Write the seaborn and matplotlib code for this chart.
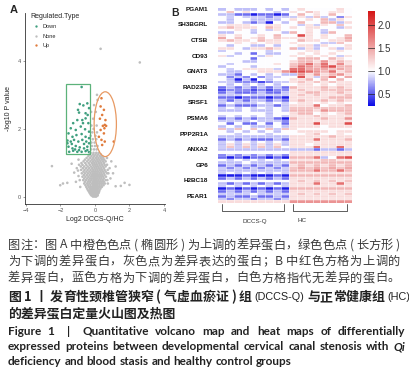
#Volcano plot (A) + heat map (B) of differentially expressed proteins

#Imports
import numpy as np
import pandas as pd
import matplotlib
matplotlib.use('Agg')
import matplotlib.pyplot as plt
import seaborn as sns
from matplotlib.colors import LinearSegmentedColormap
from matplotlib.patches import Rectangle, Ellipse

#Volcano data (log2 fold change, -log10 p)
down_points = [(-0.77, 3.23), (-0.88, 2.73), (-0.67, 2.69), (-0.44, 2.75), (-0.92, 2.48),
               (-0.54, 2.46), (-0.34, 2.61), (-1.26, 2.17), (-1.02, 2.26), (-0.73, 2.26),
               (-0.54, 2.31), (-0.38, 2.17), (-1.40, 2.02), (-1.11, 1.97), (-0.82, 2.07),
               (-0.57, 1.99), (-0.34, 1.92), (-1.53, 1.87), (-1.30, 1.77), (-1.07, 1.82),
               (-0.77, 1.85), (-0.54, 1.77), (-0.34, 1.73), (-1.59, 1.66), (-1.40, 1.63),
               (-1.21, 1.68), (-0.96, 1.63), (-0.73, 1.68), (-0.50, 1.63), (-0.34, 1.58),
               (-1.53, 1.48), (-1.30, 1.43), (-1.11, 1.50), (-0.88, 1.46), (-0.63, 1.43),
               (-0.44, 1.48), (-1.49, 1.33), (-1.26, 1.36), (-1.02, 1.33), (-0.77, 1.33),
               (-0.54, 1.35), (-0.34, 1.32), (-1.59, 1.58), (-1.34, 1.56), (-0.63, 1.56),
               (-0.92, 1.38), (-1.15, 1.40), (-0.44, 1.38), (-0.69, 2.17), (-0.98, 2.56),
               (-0.42, 2.41)]
up_points = [(0.38, 2.90), (0.33, 2.66), (0.52, 2.56), (0.42, 2.41), (0.57, 2.12),
             (0.65, 2.09), (0.46, 2.09), (0.33, 1.97), (0.52, 1.87), (0.38, 1.68),
             (0.57, 1.63), (0.42, 1.53), (1.09, 1.63), (0.23, 1.77), (0.61, 2.26),
             (0.55, 2.02), (0.29, 2.30)]
#non significant proteins, grouped by -log10 p band
gray_bands = [
    (0.02, [-0.12, -0.05, 0.02, 0.08]),
    (0.05, [-0.2, -0.14, -0.08, -0.02, 0.04, 0.1, 0.16]),
    (0.08, [-0.25, -0.18, -0.1, -0.04, 0.03, 0.09, 0.15]),
    (0.12, [-0.3, -0.21, -0.15, -0.07, 0.0, 0.06, 0.12, 0.21]),
    (0.16, [-0.34, -0.22, -0.12, -0.05, 0.05, 0.11, 0.24]),
    (0.2, [-0.4, -0.27, -0.18, -0.1, -0.02, 0.07, 0.14, 0.26]),
    (0.25, [-0.45, -0.3, -0.2, -0.13, -0.06, 0.01, 0.09, 0.19, 0.32]),
    (0.3, [-0.5, -0.36, -0.25, -0.15, -0.08, 0.0, 0.08, 0.17, 0.28, 0.4]),
    (0.35, [-0.55, -0.4, -0.26, -0.12, -0.03, 0.05, 0.14, 0.26, 0.38, 0.5]),
    (0.4, [-0.62, -0.46, -0.32, -0.18, -0.07, 0.02, 0.11, 0.22, 0.34, 0.46, 0.58]),
    (0.45, [-0.58, -0.41, -0.27, -0.13, -0.04, 0.06, 0.16, 0.28, 0.4, 0.52]),
    (0.5, [-0.68, -0.52, -0.36, -0.22, -0.09, 0.0, 0.1, 0.21, 0.33, 0.46, 0.62]),
    (0.55, [-0.62, -0.45, -0.3, -0.16, -0.05, 0.04, 0.14, 0.26, 0.38, 0.52]),
    (0.6, [-0.72, -0.55, -0.38, -0.23, -0.1, 0.0, 0.11, 0.23, 0.35, 0.48, 0.64]),
    (0.65, [-0.64, -0.47, -0.31, -0.17, -0.05, 0.06, 0.18, 0.3, 0.42, 0.56]),
    (0.7, [-0.76, -0.58, -0.41, -0.25, -0.11, 0.01, 0.13, 0.26, 0.38, 0.52, 0.7]),
    (0.75, [-0.66, -0.49, -0.32, -0.17, -0.04, 0.08, 0.2, 0.33, 0.47, 0.62]),
    (0.8, [-0.8, -0.6, -0.42, -0.25, -0.1, 0.03, 0.15, 0.28, 0.41, 0.56, 0.74]),
    (0.85, [-0.7, -0.51, -0.33, -0.16, -0.02, 0.1, 0.23, 0.37, 0.52]),
    (0.9, [-0.82, -0.62, -0.42, -0.24, -0.08, 0.05, 0.18, 0.32, 0.46, 0.62]),
    (0.95, [-0.72, -0.5, -0.3, -0.13, 0.0, 0.13, 0.27, 0.41, 0.56]),
    (1.0, [-0.78, -0.56, -0.36, -0.18, -0.04, 0.09, 0.23, 0.37, 0.52]),
    (1.05, [-0.66, -0.45, -0.26, -0.1, 0.04, 0.18, 0.32, 0.47, 0.62]),
    (1.1, [-0.58, -0.37, -0.18, -0.03, 0.12, 0.26, 0.4, 0.54]),
    (1.15, [-0.48, -0.27, -0.1, 0.06, 0.2, 0.35, 0.48]),
    (1.2, [-0.38, -0.2, -0.04, 0.12, 0.28, 0.42]),
    (1.25, [-0.3, -0.12, 0.03, 0.18, 0.34]),
    (1.3, [-0.25, -0.08, 0.08, 0.22]),
    (1.4, [-0.22, -0.05, 0.1]),
    (1.5, [-0.18, 0.0, 0.15]),
    (1.6, [-0.2, -0.02]),
    (1.7, [-0.12, 0.08]),
    (1.8, [-0.25, 0.03]),
    (1.9, [-0.15, 0.12]),
    (2.0, [-0.08]),
    (2.1, [-0.2, 0.1]),
    (2.3, [-0.1]),
    (2.5, [-0.22, 0.05]),
    (2.7, [-0.05]),
    (2.85, [0.15]),
    (3.0, [0.12]),
]
gray_extra = [(-0.95, 0.62), (-1.05, 0.85), (-0.92, 0.95), (-1.2, 0.72), (-0.88, 0.5),
              (-1.35, 0.98), (-0.95, 1.1), (-0.85, 0.3), (-1.1, 0.45), (-0.98, 0.78),
              (0.78, 0.7), (0.85, 0.85), (0.7, 0.95), (0.9, 0.55), (1.05, 0.7),
              (0.75, 0.4), (1.2, 0.9), (0.7, 1.15), (0.95, 1.05), (0.72, 0.5),
              (-2.49, 0.91), (-1.85, 0.4), (-2.01, 0.35), (-1.6, 0.42), (1.2, 0.32),
              (1.5, 0.33), (1.72, 0.42), (2.0, 0.36), (0.33, 4.35), (2.6, 3.95)]

#Heat map data: 75 proteins x (9 DCCS-Q + 8 HC), coded as levels 0..9
level_values = [0.3, 0.55, 0.8, 1.0, 1.2, 1.4, 1.6, 1.8, 2.0, 2.2]
heat_rows = [
    "232223232 34333343", "353433323 43543443", "221101101 35343533", "323222122 24252314",
    "323322223 43435243", "223212032 35335524", "344433443 32424353", "454443543 43443324",
    "334323243 33432333", "223323332 53432533", "434334353 38434335", "635345354 44434346",
    "454435443 35443445", "334343443 43332253", "323322323 34424334", "443244543 52423424",
    "233333233 33443343", "332313223 34343433", "423332433 43434324", "333313333 35553543",
    "333223333 45546454", "323333343 56858474", "233323333 57657855", "323444423 88666565",
    "322334446 88765745", "221323232 26464564", "312131223 39425836", "320203233 44535353",
    "221110122 45454544", "323232323 34434344", "121212121 54445454", "011101011 45445555",
    "121112112 44554454", "222322222 45454445", "110111010 44444555", "212122121 45445454",
    "232223232 34434343", "121112212 44473445", "232323232 55555555", "222322232 55546555",
    "333333233 45534345", "232323232 44454444", "121212210 54445446", "222232221 44444444",
    "313113131 44484448", "232322232 44443444", "525353525 43333333", "323232323 34444344",
    "332333233 33453343", "222222222 44444544", "121211121 44474445", "232323232 44444444",
    "242424242 44344444", "252525253 44484484", "222222222 22212212", "333333333 44444444",
    "121212121 44444444", "101011010 55572378", "323232323 44445544", "222322222 55555555",
    "121212121 45454545", "212121212 56565656", "222222222 55575575", "232323232 44444444",
    "000100010 55555555", "121212121 44444444", "333333333 45454545", "212121212 44474474",
    "232323232 44444444", "010101010 55555555", "121212121 44444444", "222232222 45454545",
    "121121121 44444444", "212212212 44444444", "444444444 66666666",
]
gene_labels = ['PGAM1', 'SH3BGRL', 'CTSB', 'CD93', 'GNAT3', 'RAD23B', 'SRSF1',
               'PSMA6', 'PPP2R1A', 'ANXA2', 'GP6', 'H2BC18', 'PEAR1']
group_names = ['DCCS-Q', 'HC']
group_sizes = [9, 8]
cbar_ticks = [0.5, 1.0, 1.5, 2.0]

#Monta os dataframes
gray_points = [(x, y) for y, xs in gray_bands for x in xs] + gray_extra
df_volcano = pd.concat([
    pd.DataFrame(down_points, columns=['log2fc', 'logp']).assign(type='Down'),
    pd.DataFrame(gray_points, columns=['log2fc', 'logp']).assign(type='None'),
    pd.DataFrame(up_points, columns=['log2fc', 'logp']).assign(type='Up'),
])

mat = np.array([[level_values[int(c)] for c in r.replace(' ', '')] for r in heat_rows])
cols = [f'{g}{i + 1}' for g, n in zip(group_names, group_sizes) for i in range(n)]
row_labels = ['' for _ in heat_rows]
for i, g in enumerate(gene_labels):
    row_labels[i * 6] = g
df_heat = pd.DataFrame(mat, columns=cols)

#Figure
sns.set_theme(style='ticks')
plt.rcParams['font.family'] = ['Liberation Sans', 'Noto Sans CJK SC', 'DejaVu Sans']
fig = plt.figure(figsize=(4.1, 3.82), dpi=100)
renderer = fig.canvas.get_renderer()

#A - volcano
ax1 = fig.add_axes([0.061, 0.466, 0.341, 0.50])
palette = {'Down': '#3f9f7f', 'None': '#bebebe', 'Up': '#e07b3c'}
sns.scatterplot(data=df_volcano, x='log2fc', y='logp', hue='type',
                hue_order=['Down', 'None', 'Up'], palette=palette,
                s=3.5, linewidth=0, ax=ax1)
ax1.add_patch(Rectangle((-1.68, 1.26), 1.38, 2.05, fill=False,
                        edgecolor='#5cb27a', lw=0.9))
ax1.add_patch(Ellipse((0.60, 2.14), 1.29, 1.90, fill=False,
                      edgecolor='#e89a63', lw=0.9))
ax1.set_xlim(-4.05, 4.05)
ax1.set_ylim(-0.2, 5.4)
ax1.set_xticks([-4, -2, 0, 2, 4])
ax1.set_yticks([0, 2, 4])
ax1.set_xlabel('Log2 DCCS-Q/HC', fontsize=5, color='#222222', labelpad=2)
ax1.set_ylabel('-log10 P value', fontsize=5, color='#222222', labelpad=4)
ax1.tick_params(labelsize=4, length=1.5, width=0.4, colors='#555555', pad=1.5)
for side in ['left', 'bottom']:
    ax1.spines[side].set_linewidth(0.6)
    ax1.spines[side].set_color('#333333')
sns.despine(ax=ax1)
leg = ax1.legend(title='Regulated.Type', loc='upper left', frameon=False,
                 fontsize=4, title_fontsize=5, markerscale=0.9,
                 labelspacing=0.75, handletextpad=0.3, bbox_to_anchor=(0.0, 1.025))
leg._legend_box.align = 'left'

#B - heat map
ax2 = fig.add_axes([0.5317, 0.4686, 0.3268, 0.5105])
cax = fig.add_axes([0.8976, 0.7225, 0.017, 0.2495])
cmap = LinearSegmentedColormap.from_list(
    'bwr2', [(0, '#0a0ae6'), ((1.0 - 0.24) / (2.31 - 0.24), '#ffffff'), (1, '#d41414')])
sns.heatmap(df_heat, ax=ax2, cbar_ax=cax, cmap=cmap, vmin=0.24, vmax=2.31,
            linewidths=0, xticklabels=False, yticklabels=row_labels)
#thin white cell borders
n_rows, n_cols = df_heat.shape
ax2.hlines(np.arange(1, n_rows), 0, n_cols, color='white', lw=0.3)
ax2.vlines(np.arange(1, n_cols), 0, n_rows, color='white', lw=0.4)
ax2.tick_params(axis='y', length=0, pad=7, labelsize=4.6)
for t in ax2.get_yticklabels():
    t.set_fontweight('bold')
    t.set_color('#111111')
ax2.set_ylabel('')

cbar = ax2.collections[0].colorbar
cbar.set_ticks(cbar_ticks)
cbar.set_ticklabels([f'{v:.1f}' for v in cbar_ticks])
cbar.ax.tick_params(length=0, labelsize=7, colors='#333333', pad=2)
cbar.outline.set_visible(False)
for v in cbar_ticks:
    cbar.ax.axhline(v, color='#222222', lw=0.5)

#column group brackets
start = 0
text_pos = [(4.6, 82.3), (10.7, 81.6)]
for g, n, (tx, ty) in zip(group_names, group_sizes, text_pos):
    x0, x1 = start + 0.5, start + n - 0.6
    ax2.plot([x0, x0, x1, x1], [75.4, 78.1, 78.1, 75.4], color='#444444',
             lw=0.6, clip_on=False)
    ax2.text(tx, ty, g, fontsize=4.5, color='#333333', ha='center', va='center')
    start += n

fig.text(10 / 410, 1 - 10 / 382, 'A', fontsize=8, fontweight='bold', va='center')
fig.text(171 / 410, 1 - 13 / 382, 'B', fontsize=7.5, fontweight='bold', va='center')


#Caption, laid out token by token so the full lines are justified
def advance(s, kw, probe):
    a = fig.text(0, 0, probe + s + probe, **kw)
    b = fig.text(0, 0, probe + probe, **kw)
    w = a.get_window_extent(renderer).width - b.get_window_extent(renderer).width
    a.remove()
    b.remove()
    return w


def put_line(tokens, y_px, kw, probe, width=None, x_px=8):
    #tokens: list of (text, extra style); spaces are tokens too
    advs = [advance(s, {**kw, **st}, probe) for s, st in tokens]
    extra = 0
    if width is not None and len(tokens) > 1:
        extra = max(width - sum(advs), 0) / (len(tokens) - 1)
    x = x_px
    for (s, st), a in zip(tokens, advs):
        if s.strip():
            fig.text(x / 410, 1 - y_px / 382, s, va='center', ha='left', **{**kw, **st})
        x += a + extra


cjk = ['Noto Sans CJK SC', 'DejaVu Sans']
notes = ['图注：图 A 中橙色色点 ( 椭圆形 ) 为上调的差异蛋白，绿色色点 ( 长方形 )',
         '为下调的差异蛋白，灰色点为差异表达的蛋白；B 中红色方格为上调的',
         '差异蛋白，蓝色方格为下调的差异蛋白，白色方格指代无差异的蛋白。']
note_kw = dict(family=cjk, fontsize=8.8, color='#3a3a3a')
for i, line in enumerate(notes):
    put_line([(c, {}) for c in line], 245 + 16.5 * i, note_kw, '国', width=392)

title_kw = dict(family=cjk, fontsize=9.3, fontweight='bold', color='#222222')
lat = dict(family=['Liberation Sans', 'Noto Sans CJK SC'], fontweight='normal', fontsize=7.8)
title_cn_1 = ([(c, {}) for c in '图 1 丨 发育性颈椎管狭窄 ( 气虚血瘀证 ) 组 ']
              + [('(DCCS-Q)', lat), (' ', {})]
              + [(c, {}) for c in '与正常健康组 '] + [('(HC)', lat)])
put_line(title_cn_1, 297, title_kw, '国', width=394)
put_line([('的差异蛋白定量火山图及热图', {})], 313, title_kw, '国')

en_kw = dict(family=['Lato', 'DejaVu Sans'], fontsize=8.5, fontweight='bold', color='#222222')
title_en = ['Figure 1  |  Quantitative volcano map and heat maps of differentially',
            'expressed proteins between developmental cervical canal stenosis with Qi',
            'deficiency and blood stasis and healthy control groups']
for i, line in enumerate(title_en):
    words = []
    for j, w in enumerate(line.split(' ')):
        if j:
            words.append((' ', {}))
        words.append((w, {'fontstyle': 'italic'} if w == 'Qi' else {}))
    put_line(words, 331.5 + 15 * i, en_kw, 'x', width=397 if i < 2 else None)

plt.savefig('out.png', dpi=100)
